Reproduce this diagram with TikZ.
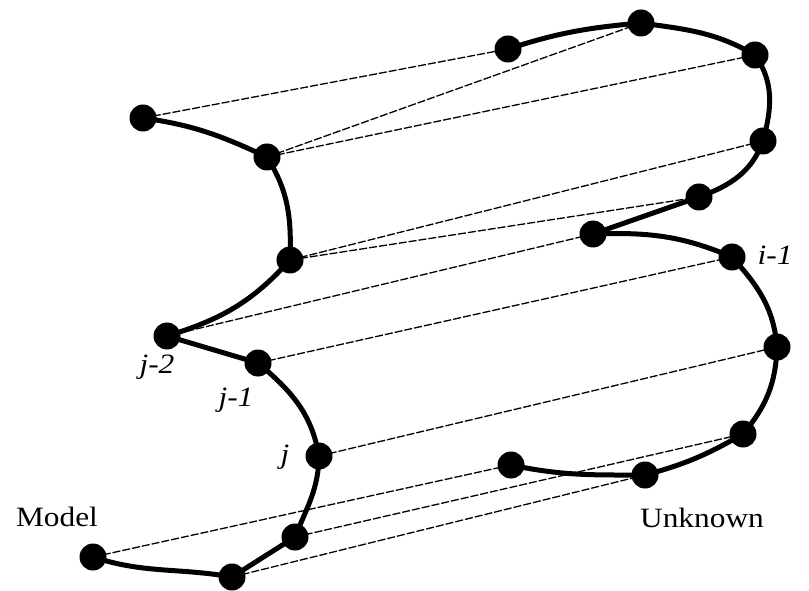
\documentclass[tikz,border=0pt]{standalone}
\usepackage{fontspec}
\setmainfont{Liberation Serif}
\usetikzlibrary{backgrounds}
\begin{document}
\begin{tikzpicture}[x=1pt,y=1pt,
  dot/.style={circle,fill=black,inner sep=0pt,minimum size=27pt},
  curve/.style={line width=5pt,line cap=round,line join=round},
  match/.style={line width=1.3pt,dash pattern=on 8pt off 2pt},
  lbl/.style={font=\fontsize{28}{30}\selectfont\itshape,xscale=1.12,anchor=base,inner sep=0pt},
  title/.style={font=\fontsize{28}{30}\selectfont,xscale=1.12,anchor=base,inner sep=0pt}]
\useasboundingbox (0,0) rectangle (809,590);
% Model curve
\node[dot] (L1) at (143,472) {};
\node[dot] (L2) at (267,433) {};
\node[dot] (L3) at (290,330) {};
\node[dot] (L4) at (167,254) {};
\node[dot] (L5) at (258,227) {};
\node[dot] (L6) at (319,134) {};
\node[dot] (L7) at (295,53) {};
\node[dot] (L8) at (232,13) {};
\node[dot] (L9) at (93,33) {};
% Unknown curve
\node[dot] (R1) at (508,541) {};
\node[dot] (R2) at (641,567) {};
\node[dot] (R3) at (755,535) {};
\node[dot] (R4) at (763,449) {};
\node[dot] (R5) at (699,393) {};
\node[dot] (R6) at (593,356) {};
\node[dot] (R7) at (732,333) {};
\node[dot] (R8) at (777,243) {};
\node[dot] (R9) at (743,156) {};
\node[dot] (R10) at (645,115) {};
\node[dot] (R11) at (511,125) {};
% labels
\node[lbl] (lj2) at (157,217) {j-2};
\node[lbl] (lj1) at (236,184) {j-1};
\node[lbl] (lj) at (285,127) {j};
\node[lbl] (li1) at (775,325) {i-1};
\node[title] (tm) at (57,64) {Model};
\node[title] (tu) at (702,63) {Unknown};
\begin{scope}[on background layer]
  \draw[match] (L1.center) -- (R1.center);
  \draw[match] (L2.center) -- (R2.center);
  \draw[match] (L2.center) -- (R3.center);
  \draw[match] (L3.center) -- (R4.center);
  \draw[match] (L3.center) -- (R5.center);
  \draw[match] (L4.center) -- (R6.center);
  \draw[match] (L5.center) -- (R7.center);
  \draw[match] (L6.center) -- (R8.center);
  \draw[match] (L7.center) -- (R9.center);
  \draw[match] (L8.center) -- (R10.center);
  \draw[match] (L9.center) -- (R11.center);
  \draw[curve] (L1.center) to[out=-8,in=155] (L2.center)
     to[out=-58,in=88] (L3.center)
     to[out=228,in=17] (L4.center)
     -- (L5.center)
     to[out=-40,in=100] (L6.center)
     to[out=-91,in=68] (L7.center)
     -- (L8.center)
     to[out=170,in=-18] (L9.center);
  \draw[curve] (R1.center) to[out=18,in=185] (R2.center)
     to[out=-8,in=150] (R3.center)
     to[out=-55,in=75] (R4.center)
     to[out=-110,in=20] (R5.center)
     -- (R6.center)
     to[out=2,in=157] (R7.center)
     to[out=-48,in=95] (R8.center)
     to[out=-92,in=50] (R9.center)
     to[out=210,in=15] (R10.center)
     to[out=180,in=-12] (R11.center);
\end{scope}
\end{tikzpicture}
\end{document}
